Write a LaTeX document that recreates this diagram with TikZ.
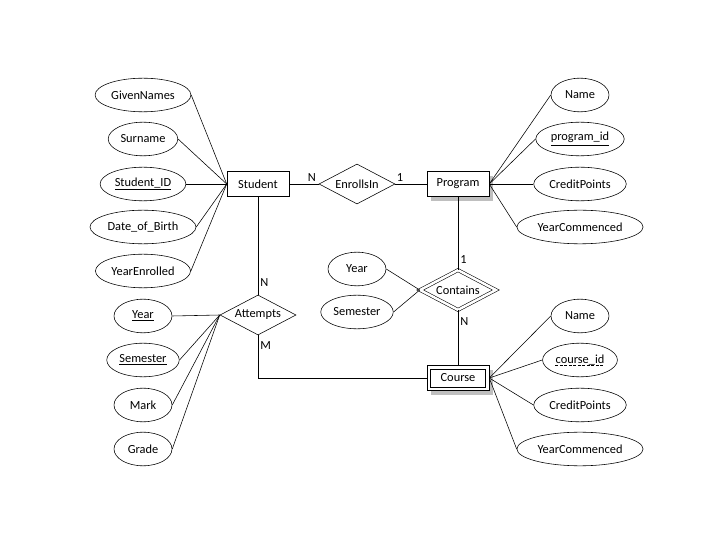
\documentclass[tikz,border=0pt]{standalone}
\usepackage{fontspec}
\setmainfont{Carlito}
\usetikzlibrary{shapes.geometric, shadows}

\begin{document}
\begin{tikzpicture}[thin, font=\fontsize{8.8}{10}\selectfont]
    \tikzset{
        entity/.style={rectangle, draw, fill=white, minimum width=1.55cm, minimum height=0.62cm},
        shadowed/.style={drop shadow={shadow xshift=3pt, shadow yshift=-3pt, fill=black!50}},
        relation/.style={diamond, draw, fill=white, aspect=1.9, inner sep=0pt, minimum width=1.9cm, minimum height=1cm},
        attrib/.style={ellipse, draw, inner xsep=1.5pt, minimum width=1.45cm, minimum height=0.84cm},
        card/.style={inner sep=1.5pt}
    };
    \useasboundingbox (0, 0) rectangle (18, 13.5);

    % entities and relationships
    \node[entity] (student) at (6.45, 8.9) {Student};
    \node[entity, shadowed] (program) at (11.45, 8.9) {Program};
    \node[entity, shadowed] (course) at (11.45, 4.05) {Course};
    \draw ([shift={(2.5pt, 2.5pt)}]course.south west) rectangle ([shift={(-2.5pt, -2.5pt)}]course.north east);
    \node[relation] (enrolls) at (8.925, 8.9) {EnrollsIn};
    \node[relation, double, double distance=1.8pt] (contains) at (11.45, 6.25) {Contains};
    \node[relation] (attempts) at (6.45, 5.625) {Attempts};

    % student attributes
    \node[attrib] (givennames) at (3.575, 11.125) {GivenNames};
    \node[attrib] (surname) at (3.575, 10.025) {Surname};
    \node[attrib] (studentid) at (3.575, 8.9) {\underline{Student\_ID}};
    \node[attrib] (dob) at (3.575, 7.825) {Date\_of\_Birth};
    \node[attrib] (yearenrolled) at (3.575, 6.725) {YearEnrolled};
    \foreach \a in {givennames, surname, studentid, dob, yearenrolled}
        \draw (student.west) -- (\a.east);

    % program attributes
    \node[attrib] (pname) at (14.5, 11.125) {Name};
    \node[attrib] (programid) at (14.5, 10.025) {\underline{program\_id}};
    \node[attrib] (pcredit) at (14.5, 8.9) {CreditPoints};
    \node[attrib] (pyear) at (14.5, 7.825) {YearCommenced};
    \foreach \a in {pname, programid, pcredit, pyear}
        \draw (program.east) -- (\a.west);

    % course attributes (course_id is a partial key)
    \node[attrib] (cname) at (14.5, 5.6) {Name};
    \node[attrib] (courseid) at (14.5, 4.5) {\phantom{course\_id}};
    \node[inner sep=0pt] (cidtext) at (courseid) {course\_id};
    \draw[dash pattern=on 2pt off 1.2pt] ([yshift=-1.6pt]cidtext.base west) -- ([yshift=-1.6pt]cidtext.base east);
    \node[attrib] (ccredit) at (14.5, 3.375) {CreditPoints};
    \node[attrib] (cyear) at (14.5, 2.275) {YearCommenced};
    \foreach \a in {cname, courseid, ccredit, cyear}
        \draw (course.east) -- (\a.west);

    % attempts attributes
    \node[attrib] (ayear) at (3.575, 5.6) {\underline{Year}};
    \node[attrib] (asem) at (3.575, 4.5) {\underline{Semester}};
    \node[attrib] (amark) at (3.575, 3.375) {Mark};
    \node[attrib] (agrade) at (3.575, 2.275) {Grade};
    \foreach \a in {ayear, asem, amark, agrade}
        \draw (attempts.west) -- (\a.east);

    % contains attributes
    \node[attrib] (cyr) at (8.925, 6.775) {Year};
    \node[attrib] (csem) at (8.925, 5.7) {Semester};
    \foreach \a in {cyr, csem}
        \draw (contains.west) -- (\a.east);

    % relationship lines
    \draw (student) -- (enrolls) node[card, pos=0.77, above] {N};
    \draw (enrolls) -- (program) node[card, pos=0.15, above] {1};
    \draw (program) -- (contains) node[card, pos=0.86, right] {1};
    \draw (contains) -- (course) node[card, pos=0.2, right] {N};
    \draw (student) -- (attempts) node[card, pos=0.88, right] {N};
    \draw (attempts.south) |- (course.west) node[card, pos=0.12, right] {M};
\end{tikzpicture}
\end{document}
